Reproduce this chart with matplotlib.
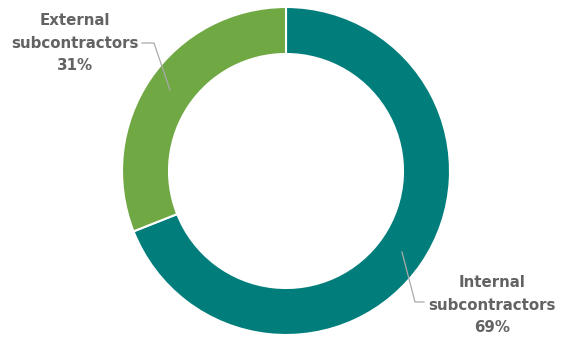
import matplotlib
matplotlib.use("Agg")
import matplotlib.pyplot as plt

labels = ["Internal\nsubcontractors", "External\nsubcontractors"]
shares = [69, 31]
colors = ["#017D7B", "#70A844"]

W, H = 569, 338
fig = plt.figure(figsize=(W / 100, H / 100), dpi=100)
ax = fig.add_axes([0, 0, 1, 1])

cx, cy, r_out = 286, H - 171, 164
ax.pie(shares, colors=colors, startangle=90, counterclock=False,
       radius=r_out, center=(cx, cy),
       wedgeprops=dict(width=47, edgecolor="white", linewidth=1.5))

ax.set_xlim(0, W)
ax.set_ylim(0, H)
ax.set_aspect("auto")
ax.axis("off")

txt = dict(ha="center", va="center", color="#636363", fontsize=10.8,
           fontweight="bold", family="DejaVu Sans", linespacing=1.6)

# External label (top left)
ax.text(75, H - 43, f"{labels[1]}\n{shares[1]}%", **txt)
ax.plot([142, 154, 170], [H - 43, H - 43, H - 90], color="#aaaaaa", lw=0.9)

# Internal label (bottom right)
ax.text(492, H - 305, f"{labels[0]}\n{shares[0]}%", **txt)
ax.plot([402, 415, 424], [H - 252, H - 302, H - 302], color="#aaaaaa", lw=0.9)

fig.savefig("out.png", dpi=100)
